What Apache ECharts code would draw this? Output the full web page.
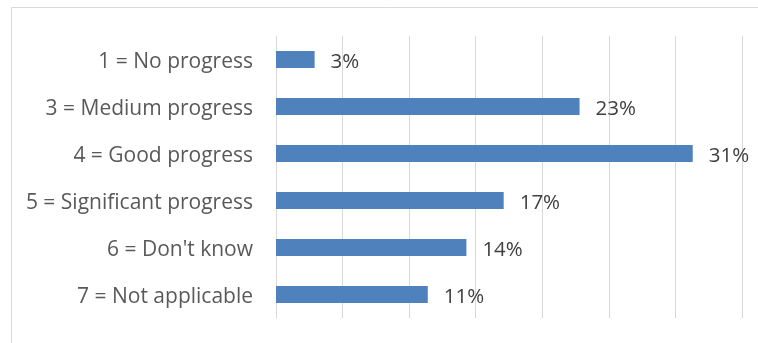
<!DOCTYPE html>
<html><head><meta charset="utf-8">
<script src="https://cdn.jsdelivr.net/npm/echarts@6/dist/echarts.min.js"></script>
<style>html,body{margin:0;padding:0;background:#fff}#c{width:758px;height:343px}</style>
</head><body><div id="c"></div>
<script>
const categories = ["1 = No progress","3 = Medium progress","4 = Good progress","5 = Significant progress","6 = Don't know","7 = Not applicable"];
const values = [2.9, 22.8, 31.3, 17.1, 14.3, 11.4];
const chart = echarts.init(document.getElementById('c'), null, {renderer:'canvas'});
chart.setOption({
  animation:false,
  graphic:[{type:'rect', shape:{x:11.5,y:7.5,width:760,height:360}, style:{fill:'none',stroke:'#d9d9d9',lineWidth:1}, silent:true}],
  grid:{left:276,right:16,top:36,bottom:25,containLabel:false},
  xAxis:{type:'value',min:0,max:35,interval:5,axisLabel:{show:false},axisLine:{show:false},axisTick:{show:false},
    splitLine:{lineStyle:{color:'#d9d9d9',width:1}}},
  yAxis:{type:'category',data:categories,inverse:true,axisTick:{show:false},
    axisLine:{show:true,lineStyle:{color:'#d9d9d9'}},
    axisLabel:{margin:23,formatter:v=>'{a|'+v+'}',
      rich:{a:{color:'#595959',fontFamily:'Open Sans',fontSize:21,padding:[6,0,0,0]}}}},
  series:[{type:'bar',data:values,barWidth:17,itemStyle:{color:'#4f81bd'},
    label:{show:true,position:'right',distance:16,offset:[0,3],color:'#404040',fontFamily:'Open Sans',fontSize:20.5,
      formatter:p=>Math.round(p.value)+'%'}}]
});
</script></body></html>
